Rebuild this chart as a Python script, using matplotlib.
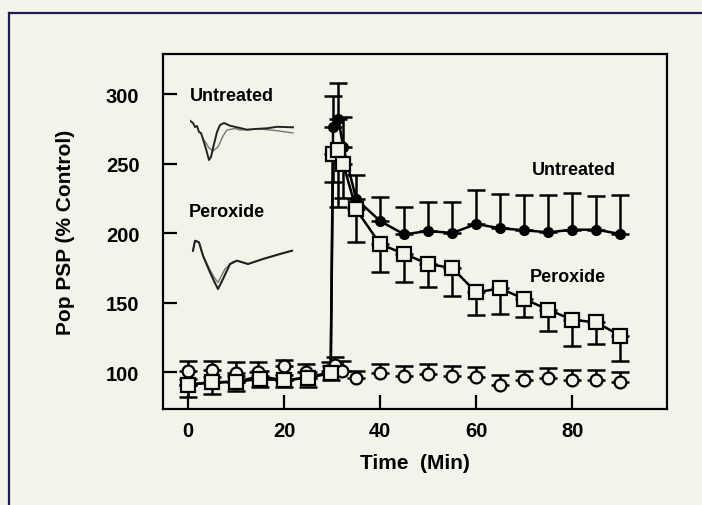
import matplotlib
matplotlib.use('Agg')
import matplotlib.pyplot as plt
from matplotlib.lines import Line2D

plt.rcParams['font.family'] = ['Liberation Sans', 'DejaVu Sans']
plt.rcParams['font.weight'] = 'bold'

BG = '#f4f3ea'
FRAME = '#1c1c5c'

# ---------------- data ----------------
untreated_t = [0, 5, 10, 15, 20, 25, 29.7, 30.2, 31.3, 32.3, 35, 40, 45, 50, 55, 60, 65, 70, 75, 80, 85, 90]
untreated_v = [91, 92.5, 93, 97, 94, 96, 100, 276, 282, 262, 224.5, 208.6, 199, 201.5, 200, 206.5, 203.4, 202, 200.5, 202.4, 202.4, 199.3]
untreated_err = [4, 4, 4, 4, 4, 4, 4, 22.6, 26, 21.5, 17.5, 17.5, 20, 21, 22, 24.5, 24.6, 25.3, 26.8, 26.4, 24.4, 28]

peroxide_t = [0, 5, 10, 15, 20, 25, 29.7, 30.2, 31.3, 32.3, 35, 40, 45, 50, 55, 60, 65, 70, 75, 80, 85, 90]
peroxide_v = [91, 92.5, 93, 95, 94, 96, 99, 257, 260, 250, 217, 192, 185, 177.7, 174.8, 157.3, 160.2, 152.5, 144.8, 137.6, 135.7, 126.1]
peroxide_err = [9, 8, 7, 6, 5, 7, 5, 20, 41, 25, 23.5, 20, 20, 16.7, 20.3, 16.3, 18.5, 13.1, 15.1, 19.1, 15.7, 18.1]

control_t = [0, 5, 10, 14.5, 20, 24.5, 29.5, 30.5, 32, 35, 40, 45, 50, 55, 60, 65, 70, 75, 80, 85, 90]
control_v = [101, 101.5, 99.5, 100, 104, 100, 101, 105, 101, 96, 99, 97, 98.5, 97, 96.5, 91, 94, 96, 94.5, 94.5, 93]
control_err = [7, 6.5, 8, 7.5, 5, 6, 6, 6, 7, 5, 7, 7, 7, 7, 7, 7, 7, 7, 7, 7, 7]

x_ticks = [0, 20, 40, 60, 80]
y_ticks = [100, 150, 200, 250, 300]

# inset waveform traces (time in ms, amplitude in mV)
unt_trace_black_t = [0, 0.3, 0.5, 0.7, 0.9, 1.1, 1.3, 1.6, 1.9, 2.1, 2.4, 2.7, 3.0, 3.4, 4.0, 5.0, 5.7, 6.5, 7.7, 8.7, 10.3]
unt_trace_black_v = [0.33, 0.1, -0.3, -0.2, -0.8, -0.9, -1.5, -2.5, -3.6, -3.3, -2.0, -0.8, -0.1, 0.1, -0.17, -0.4, -0.57, -0.5, -0.43, -0.28, -0.33]
unt_trace_gray_t = [1.3, 1.6, 1.9, 2.3, 2.8, 3.3, 3.7, 4.5, 5.0, 7.0, 8.7, 10.3]
unt_trace_gray_v = [-1.5, -1.9, -2.4, -2.7, -2.3, -1.2, -0.6, -0.45, -0.6, -0.5, -0.67, -0.9]
per_trace_black_t = [0.3, 0.5, 0.9, 1.3, 2.0, 2.4, 2.8, 3.3, 4.0, 4.7, 5.8, 7.3, 9.0, 10.2]
per_trace_black_v = [0.33, 1.33, 1.17, -0.17, -1.83, -2.7, -3.5, -2.5, -1.0, -0.67, -1.0, -0.5, 0.0, 0.33]
per_trace_gray_t = [0.3, 0.5, 0.9, 1.3, 2.0, 2.4, 2.8, 3.5, 4.3, 4.7, 5.8, 7.3, 9.0, 10.2]
per_trace_gray_v = [0.33, 1.33, 1.17, -0.17, -1.6, -2.3, -2.85, -1.5, -0.77, -0.67, -1.0, -0.5, 0.0, 0.33]

# ---------------- figure ----------------
W, H = 702, 506
fig = plt.figure(figsize=(W / 100, H / 100), dpi=100, facecolor=BG)

# outer frame (left and top edges only visible)
fig.add_artist(Line2D([9 / W, 9 / W], [0, 1 - 14 / H], transform=fig.transFigure, color=FRAME, lw=1.6))
fig.add_artist(Line2D([9 / W, 1], [1 - 14 / H, 1 - 14 / H], transform=fig.transFigure, color=FRAME, lw=1.6))

ax = fig.add_axes([163 / W, 1 - 410 / H, (667 - 163) / W, (410 - 55) / H])
ax.set_facecolor(BG)
ax.set_xlim(-5.2, 99.7)
ax.set_ylim(73.4, 328.8)

ebkw = dict(fmt='none', ecolor='black', elinewidth=1.8, capsize=6.5, capthick=1.8, zorder=2)
ax.errorbar(untreated_t, untreated_v, yerr=[[0] * len(untreated_err), untreated_err], **ebkw)
ax.errorbar(peroxide_t, peroxide_v, yerr=[peroxide_err, [0] * len(peroxide_err)], **ebkw)
ax.errorbar(control_t, control_v, yerr=[[0] * len(control_err), control_err], **ebkw)

ax.plot(untreated_t, untreated_v, color='black', lw=1.8, zorder=3)
ax.plot(peroxide_t, peroxide_v, color='black', lw=1.8, zorder=3)
ax.plot(control_t, control_v, ls='none', marker='o', ms=8.5, mfc=BG, mec='black', mew=1.6, zorder=4)
ax.plot(untreated_t, untreated_v, ls='none', marker='o', ms=7, mfc='black', mec='black', zorder=5)
ax.plot(peroxide_t, peroxide_v, ls='none', marker='s', ms=10, mfc=BG, mec='black', mew=1.6, zorder=6)

for s in ax.spines.values():
    s.set_linewidth(1.6)
ax.set_xticks(x_ticks)
ax.set_yticks(y_ticks)
ax.tick_params(axis='both', direction='in', length=10, width=1.6, labelsize=14.5)
ax.tick_params(axis='y', pad=17)
ax.tick_params(axis='x', pad=9)

ax.set_xlabel('Time  (Min)', fontsize=15, fontweight='bold', labelpad=9)
ax.set_ylabel('Pop PSP (% Control)', fontsize=15, fontweight='bold', labelpad=22)

ax.text(80.4, 246, 'Untreated', ha='center', va='center', fontsize=13, fontweight='bold')
ax.text(79.1, 169, 'Peroxide', ha='center', va='center', fontsize=13, fontweight='bold')
ax.text(0.4, 298.6, 'Untreated', ha='left', va='center', fontsize=13, fontweight='bold')
ax.text(0.2, 215.5, 'Peroxide', ha='left', va='center', fontsize=13, fontweight='bold')

# inset traces
ia = fig.add_axes([190 / W, 1 - 168 / H, 108 / W, 53 / H])
ia.axis('off')
ia.set_xlim(0, 10.8)
ia.set_ylim(-4.3, 1.0)
ia.plot(unt_trace_gray_t, unt_trace_gray_v, color='#777777', lw=1.0)
ia.plot(unt_trace_black_t, unt_trace_black_v, color='#222222', lw=1.4)

ib = fig.add_axes([190 / W, 1 - 296 / H, 108 / W, 61 / H])
ib.axis('off')
ib.set_xlim(0, 10.8)
ib.set_ylim(-4.1, 2.0)
ib.plot(per_trace_gray_t, per_trace_gray_v, color='#777777', lw=1.0)
ib.plot(per_trace_black_t, per_trace_black_v, color='#222222', lw=1.5)

fig.savefig('out.png', dpi=100, facecolor=BG)
